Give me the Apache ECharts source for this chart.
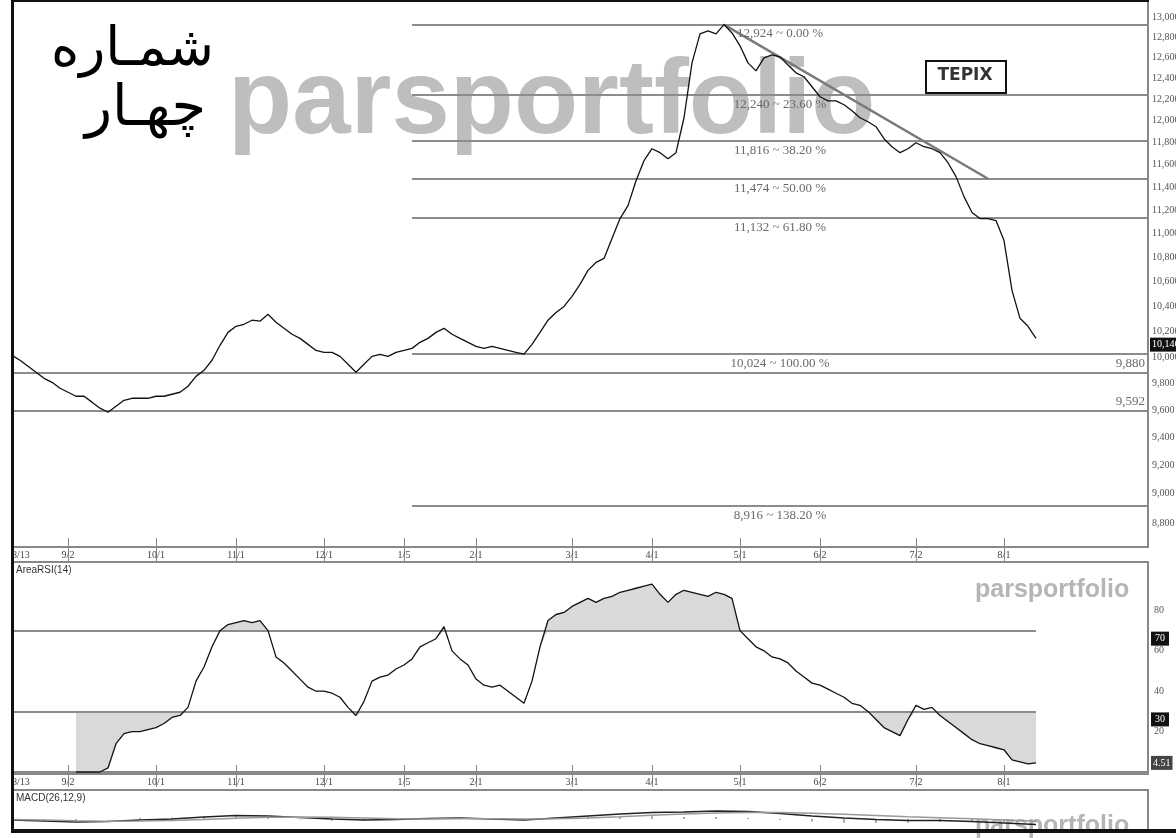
<!DOCTYPE html>
<html>
<head>
<meta charset="utf-8">
<script src="https://cdn.jsdelivr.net/npm/echarts@6/dist/echarts.min.js"></script>
<style>
  html, body { margin: 0; padding: 0; background: #fff; }
  #main { width: 1176px; height: 838px; }
</style>
</head>
<body>
<div id="main"></div>
<script>
// ---------------- data ----------------
var dayCount = 143;   // trading-day slots on the x axis (data stops at day 128)
var dateTicks = [[0, '8/13'], [7, '9/2'], [18, '10/1'], [28, '11/1'], [39, '12/1'], [49, '1/5'],
                 [58, '2/1'], [70, '3/1'], [80, '4/1'], [91, '5/1'], [101, '6/2'], [113, '7/2'], [124, '8/1']];

// TEPIX close, one value per slot from day 0
var price = [
  10014, 9976, 9930, 9884, 9838, 9808, 9763, 9733, 9703, 9703,
  9659, 9614, 9584, 9629, 9673, 9688, 9688, 9688, 9703, 9703,
  9718, 9733, 9778, 9853, 9899, 9976, 10092, 10193, 10241, 10257,
  10289, 10281, 10336, 10273, 10225, 10178, 10146, 10099, 10052, 10037,
  10037, 10006, 9945, 9884, 9945, 10006, 10022, 10006, 10037, 10052,
  10068, 10115, 10146, 10193, 10225, 10178, 10146, 10115, 10084, 10068,
  10084, 10068, 10052, 10037, 10024, 10099, 10193, 10289, 10351, 10399,
  10480, 10577, 10692, 10758, 10791, 10958, 11128, 11240, 11458, 11636,
  11744, 11708, 11654, 11708, 12028, 12548, 12831, 12861, 12831, 12924,
  12841, 12714, 12548, 12471, 12596, 12626, 12606, 12528, 12452, 12414,
  12319, 12224, 12186, 12186, 12149, 12093, 12028, 11991, 11945, 11835,
  11762, 11708, 11744, 11798, 11762, 11744, 11708, 11618, 11494, 11318,
  11180, 11128, 11128, 11111, 10941, 10528, 10304, 10241, 10146
];
var priceTicks = [8800, 9000, 9200, 9400, 9600, 9800, 10000, 10200, 10400, 10600, 10800,
                  11000, 11200, 11400, 11600, 11800, 12000, 12200, 12400, 12600, 12800, 13000];
var fibLevels = [12924, 12240, 11816, 11474, 11132, 10024, 8916];
var fibPercents = ['0.00', '23.60', '38.20', '50.00', '61.80', '100.00', '138.20'];
var fibStartDay = 50;
var supportLevels = [9880, 9592];
var trendLine = [[89, 12924], [122, 11475]];

// AreaRSI(14), starts at day 8
var rsiStart = 8;
var rsi = [
  0, 0, 0, 0, 2, 14, 19, 20, 20, 21, 22, 24, 27, 28, 32, 45, 52, 62, 70, 73,
  74, 75, 74, 75, 70, 57, 54, 50, 46, 42, 40, 40, 39, 37, 32, 28, 35, 45, 47, 48,
  51, 53, 56, 62, 64, 66, 72, 60, 56, 53, 46, 43, 42, 43, 40, 37, 34, 45, 62, 75,
  78, 79, 82, 84, 86, 84, 86, 87, 89, 90, 91, 92, 93, 88, 84, 88, 90, 89, 88, 87,
  89, 88, 86, 70, 66, 62, 60, 57, 56, 54, 50, 47, 44, 43, 41, 39, 37, 34, 33, 30,
  26, 22, 20, 18, 26, 33, 31, 32, 28, 25, 22, 19, 16, 14, 13, 12, 11, 6, 5, 4, 4.51
];
var rsiBands = [70, 30];
var rsiTicks = [20, 40, 60, 80];

// MACD(26,12,9), sampled every 4 days
var macdDays = [0, 4, 8, 12, 16, 20, 24, 28, 32, 36, 40, 44, 48, 52, 56, 60, 64,
                68, 72, 76, 80, 84, 88, 92, 96, 100, 104, 108, 112, 116, 120, 124, 128];
var macd = [-20, -40, -60, -50, -20, 0, 40, 70, 60, 30, 0, -20, -10, 10, 20, 0, -20,
            20, 60, 100, 130, 140, 160, 150, 110, 60, 20, -10, -30, -30, -50, -80, -110];
var macdSignal = [-10, -20, -35, -45, -40, -30, -10, 15, 35, 40, 35, 20, 5, 0, 5, 5, 0,
                  5, 20, 45, 75, 100, 120, 130, 130, 115, 95, 70, 45, 25, 5, -20, -45];

// ---------------- helpers ----------------
function fmt(v) { return Math.round(v).toLocaleString('en-US'); }
var days = [];
for (var d = 0; d < dayCount; d++) days.push(d);
var tickMap = {};
dateTicks.forEach(function (t) { tickMap[t[0]] = t[1]; });
function isTick(idx) { return tickMap[idx] !== undefined; }

var lastDay = rsiStart + rsi.length - 1;
var serifFont = 'Liberation Serif';
var clear = 'rgba(0,0,0,0)';

// rsi padded to the day axis, plus the pieces for the shaded zones
var rsiFull = [], obBase = [], obFill = [], osBase = [], osFill = [];
for (var i = 0; i < rsiStart; i++) { rsiFull.push(null); obBase.push(null); obFill.push(null); osBase.push(null); osFill.push(null); }
rsi.forEach(function (v) {
  rsiFull.push(v);
  obBase.push(Math.min(v, rsiBands[0]));
  obFill.push(Math.max(v - rsiBands[0], 0));
  osBase.push(Math.min(v, rsiBands[1]));
  osFill.push(Math.max(rsiBands[1] - v, 0));
});

var lineGray = '#8c8c8c';

// price panel annotations
var priceMarks = [];
fibLevels.forEach(function (v, k) {
  priceMarks.push([
    { coord: [fibStartDay, Math.log(v)],
      lineStyle: { color: lineGray, width: 2, type: 'solid' },
      label: { show: true, position: 'insideMiddleBottom', distance: 3,
               formatter: fmt(v) + ' ~ ' + fibPercents[k] + ' %',
               color: '#6a6a6a', fontFamily: serifFont, fontSize: 13 } },
    { coord: [dayCount - 1, Math.log(v)] }
  ]);
});
supportLevels.forEach(function (v) {
  priceMarks.push([
    { coord: [0, Math.log(v)],
      lineStyle: { color: lineGray, width: 2, type: 'solid' },
      label: { show: true, position: 'insideEndTop', distance: 3, formatter: fmt(v),
               color: '#6a6a6a', fontFamily: serifFont, fontSize: 13 } },
    { coord: [dayCount - 1, Math.log(v)] }
  ]);
});
priceMarks.push([
  { coord: [trendLine[0][0], Math.log(trendLine[0][1])],
    lineStyle: { color: '#7a7a7a', width: 2.5, type: 'solid' }, label: { show: false } },
  { coord: [trendLine[1][0], Math.log(trendLine[1][1])] }
]);
var lastPrice = price[price.length - 1];
priceMarks.push({
  yAxis: Math.log(lastPrice), lineStyle: { color: clear, width: 0 },
  label: { show: true, position: 'end', distance: 2, formatter: fmt(lastPrice),
           backgroundColor: '#111', color: '#fff', padding: [2, 2], fontSize: 10, fontFamily: serifFont }
});

// rsi annotations
var rsiMarks = [];
rsiBands.forEach(function (b) {
  rsiMarks.push([
    { coord: [0, b], lineStyle: { color: lineGray, width: 2, type: 'solid' }, label: { show: false } },
    { coord: [lastDay, b] }
  ]);
  rsiMarks.push({
    yAxis: b, lineStyle: { color: clear, width: 0 },
    label: { show: true, position: 'end', distance: 3, offset: [0, 8], formatter: String(b),
             backgroundColor: '#111', color: '#fff', padding: [2, 4], fontSize: 10, fontFamily: serifFont }
  });
});
var lastRsi = rsi[rsi.length - 1];
rsiMarks.push({
  yAxis: lastRsi, lineStyle: { color: clear, width: 0 },
  label: { show: true, position: 'end', distance: 3, formatter: lastRsi.toFixed(2),
           backgroundColor: '#444', color: '#fff', padding: [2, 2], fontSize: 10, fontFamily: serifFont }
});

function dateAxis(gridIndex) {
  return {
    gridIndex: gridIndex, type: 'category', data: days, boundaryGap: false, position: 'bottom',
    axisLine: { lineStyle: { color: '#888', width: 2 } },
    axisTick: { interval: function (idx) { return isTick(idx); }, length: 15, lineStyle: { color: '#888' } },
    axisLabel: { interval: function (idx) { return isTick(idx); },
                 formatter: function (v) { return tickMap[v] || ''; },
                 alignMinLabel: 'left',
                 fontSize: 10, color: '#444', fontFamily: serifFont, margin: 3 },
    splitLine: { show: false }
  };
}
function innerTicks(gridIndex) {
  return {
    gridIndex: gridIndex, type: 'category', data: days, boundaryGap: false, position: 'bottom',
    axisLine: { show: false },
    axisTick: { inside: true, interval: function (idx) { return isTick(idx); }, length: 9, lineStyle: { color: '#888' } },
    axisLabel: { show: false }, splitLine: { show: false }
  };
}

// ---------------- chart ----------------
var chart = echarts.init(document.getElementById('main'));
chart.setOption({
  animation: false,
  backgroundColor: '#fff',
  title: [
    { text: 'AreaRSI(14)', left: 16, top: 565, padding: 0,
      textStyle: { fontSize: 10, fontWeight: 'normal', color: '#333', fontFamily: 'Liberation Sans' } },
    { text: 'MACD(26,12,9)', left: 16, top: 793, padding: 0,
      textStyle: { fontSize: 10, fontWeight: 'normal', color: '#333', fontFamily: 'Liberation Sans' } }
  ],
  grid: [
    { left: 12, right: 28, top: 1, height: 546, show: true, borderColor: '#888', borderWidth: 1, outerBoundsMode: 'none' },
    { left: 12, right: 28, top: 562, height: 212, show: true, borderColor: '#888', borderWidth: 2, outerBoundsMode: 'none' },
    { left: 12, right: 28, top: 790, height: 40, show: true, borderColor: '#888', borderWidth: 2, outerBoundsMode: 'none' }
  ],
  xAxis: [
    dateAxis(0), innerTicks(0), dateAxis(1), innerTicks(1),
    { gridIndex: 2, type: 'value', min: 0, max: dayCount - 1, show: false }
  ],
  yAxis: [
    { gridIndex: 0, type: 'value', position: 'right', min: 9.063929, max: 9.485022,
      axisLine: { show: true, lineStyle: { color: '#888', width: 2 } },
      axisTick: { show: false }, splitLine: { show: false },
      axisLabel: { customValues: priceTicks.map(Math.log),
                   formatter: function (v) { return fmt(Math.exp(v)); },
                   fontSize: 10, color: '#555', fontFamily: serifFont, margin: 4 } },
    { gridIndex: 1, type: 'value', position: 'right', min: -1, max: 104,
      axisLine: { show: true, lineStyle: { color: '#888', width: 2 } },
      axisTick: { show: false }, splitLine: { show: false },
      axisLabel: { customValues: rsiTicks, fontSize: 10, color: '#555', fontFamily: serifFont, margin: 6 } },
    { gridIndex: 2, type: 'value', position: 'right', min: -220, max: 580,
      axisLine: { show: true, lineStyle: { color: '#888', width: 2 } },
      axisTick: { show: false }, splitLine: { show: false }, axisLabel: { show: false } }
  ],
  series: [
    { name: 'TEPIX', type: 'line', xAxisIndex: 0, yAxisIndex: 0, z: 5,
      data: price.map(function (v) { return Math.log(v); }),
      symbol: 'none', lineStyle: { color: '#111', width: 1.3 },
      markLine: { silent: true, symbol: ['none', 'none'], animation: false, data: priceMarks } },

    { name: 'obBase', type: 'line', xAxisIndex: 2, yAxisIndex: 1, stack: 'ob', data: obBase,
      symbol: 'none', lineStyle: { opacity: 0 }, z: 1 },
    { name: 'obFill', type: 'line', xAxisIndex: 2, yAxisIndex: 1, stack: 'ob', data: obFill,
      symbol: 'none', lineStyle: { opacity: 0 }, areaStyle: { color: '#d9d9d9', opacity: 1 }, z: 1 },
    { name: 'osBase', type: 'line', xAxisIndex: 2, yAxisIndex: 1, stack: 'os', data: osBase,
      symbol: 'none', lineStyle: { opacity: 0 }, z: 1 },
    { name: 'osFill', type: 'line', xAxisIndex: 2, yAxisIndex: 1, stack: 'os', data: osFill,
      symbol: 'none', lineStyle: { opacity: 0 }, areaStyle: { color: '#d9d9d9', opacity: 1 }, z: 1 },
    { name: 'AreaRSI', type: 'line', xAxisIndex: 2, yAxisIndex: 1, data: rsiFull, z: 5,
      symbol: 'none', lineStyle: { color: '#111', width: 1.3 },
      markLine: { silent: true, symbol: ['none', 'none'], animation: false, data: rsiMarks } },

    { name: 'hist', type: 'bar', xAxisIndex: 4, yAxisIndex: 2, barWidth: 2,
      itemStyle: { color: '#aaa' },
      data: macdDays.map(function (d, k) { return [d, macd[k] - macdSignal[k]]; }) },
    { name: 'MACD', type: 'line', xAxisIndex: 4, yAxisIndex: 2, symbol: 'none',
      lineStyle: { color: '#222', width: 1.5 },
      data: macdDays.map(function (d, k) { return [d, macd[k]]; }) },
    { name: 'signal', type: 'line', xAxisIndex: 4, yAxisIndex: 2, symbol: 'none',
      lineStyle: { color: '#999', width: 1.5 },
      data: macdDays.map(function (d, k) { return [d, macdSignal[k]]; }) }
  ],
  graphic: [
    { type: 'text', z: 0, left: 228, top: 52,
      style: { text: 'parsportfolio', fill: '#bebebe', font: 'bold 105px "Liberation Sans"' } },
    { type: 'text', z: 0, left: 975, top: 578,
      style: { text: 'parsportfolio', fill: '#b5b5b5', font: 'bold 25px "Liberation Sans"' } },
    { type: 'text', z: 0, left: 975, top: 814,
      style: { text: 'parsportfolio', fill: '#b5b5b5', font: 'bold 25px "Liberation Sans"' } },
    { type: 'text', z: 10, style: { text: 'شمـاره', x: 214, y: 51, textAlign: 'right', textVerticalAlign: 'middle',
      fill: '#000', font: '54px "DejaVu Sans"' } },
    { type: 'text', z: 10, style: { text: 'چهـار', x: 206, y: 110, textAlign: 'right', textVerticalAlign: 'middle',
      fill: '#000', font: '56px "DejaVu Sans"' } },
    { type: 'rect', z: 10, left: 925, top: 60, shape: { width: 80, height: 32 },
      style: { fill: '#fff', stroke: '#111', lineWidth: 2 } },
    { type: 'text', z: 11, style: { text: 'TEPIX', x: 965, y: 76, textAlign: 'center', textVerticalAlign: 'middle',
      fill: '#333', font: 'bold 17px "DejaVu Sans"' } },
    // black frame
    { type: 'rect', z: 20, left: 11, top: 0, shape: { width: 3, height: 833 }, style: { fill: '#111' } },
    { type: 'rect', z: 20, left: 11, top: 0, shape: { width: 1138, height: 2 }, style: { fill: '#111' } },
    { type: 'rect', z: 20, left: 11, top: 829, shape: { width: 1165, height: 4 }, style: { fill: '#111' } }
  ]
});

window.addEventListener('resize', function () {
  chart.resize();
});
</script>
</body>
</html>
